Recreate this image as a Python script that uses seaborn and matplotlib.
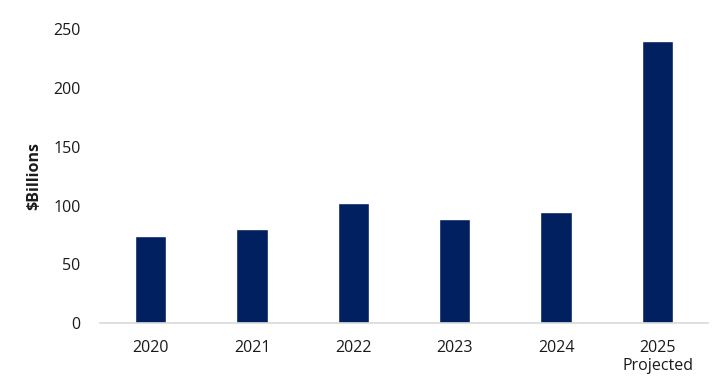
import matplotlib
matplotlib.use("Agg")
import matplotlib.pyplot as plt
import seaborn as sns
import pandas as pd

# values ($ billions)
years = ["2020", "2021", "2022", "2023", "2024", "2025\nProjected"]
values = [74, 80, 102, 89, 95, 240]

df = pd.DataFrame({"year": years, "value": values})

sns.set_theme(style="white")
plt.rcParams['font.family'] = ['Open Sans', 'DejaVu Sans']

fig = plt.figure(figsize=(7.19, 3.89), dpi=100)
ax = fig.add_axes([0.139, 0.169, 0.846, 0.756])

sns.barplot(data=df, x="year", y="value", color="#00205f", width=0.31,
            saturation=1, ax=ax)

ax.set_ylim(0, 250)
ax.set_xlim(-0.5, 5.5)
ax.set_yticks(range(0, 251, 50))
ax.set_xlabel("")
ax.set_ylabel("$Billions", fontsize=11.5, fontweight="bold", color="#1a1a1a", labelpad=8)

for s in ["top", "right", "left"]:
    ax.spines[s].set_visible(False)
ax.spines["bottom"].set_color("#d9d9d9")
ax.spines["bottom"].set_linewidth(1.2)

ax.tick_params(axis="y", length=0, pad=14, labelsize=11.5, labelcolor="#1a1a1a")
ax.tick_params(axis="x", length=0, pad=12, labelsize=11.5, labelcolor="#1a1a1a")

fig.savefig("out.png", dpi=100)
